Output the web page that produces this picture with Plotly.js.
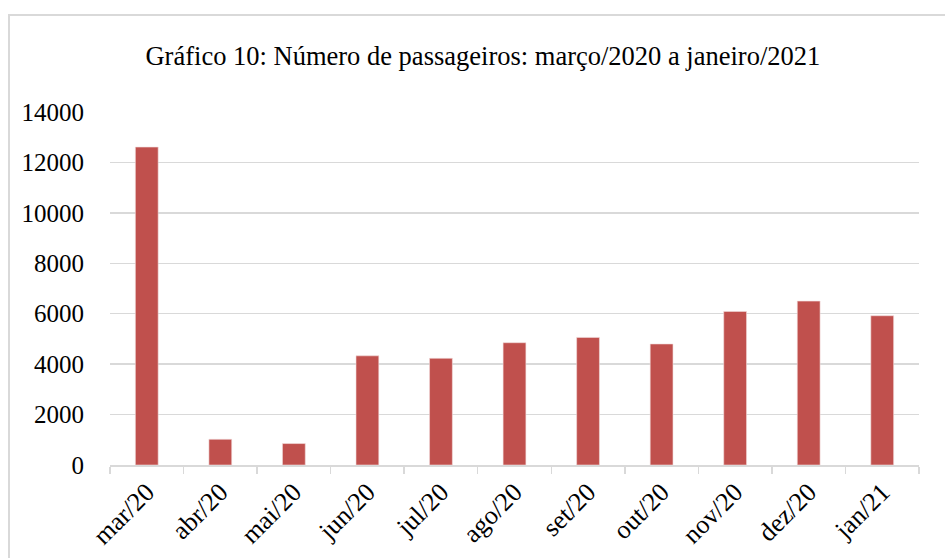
<!DOCTYPE html>
<html>
<head>
<meta charset="utf-8">
<script src="https://cdn.plot.ly/plotly-3.0.1.min.js"></script>
<style>
html,body{margin:0;padding:0;background:#fff;overflow:hidden;}
#frame{position:absolute;left:8px;top:14px;width:1000px;height:1000px;border:2px solid #d9d9d9;box-sizing:border-box;}
#chart{position:absolute;left:0;top:0;width:945px;height:558px;}
</style>
</head>
<body>
<div id="frame"></div>
<div id="chart"></div>
<script>
const months = ["mar/20","abr/20","mai/20","jun/20","jul/20","ago/20","set/20","out/20","nov/20","dez/20","jan/21"];
const passengers = [12610, 1020, 850, 4330, 4230, 4850, 5060, 4800, 6090, 6500, 5920];
const yTicks = [0,2000,4000,6000,8000,10000,12000,14000];
const chartTitle = "Gráfico 10: Número de passageiros: março/2020 a janeiro/2021";

const font = "Liberation Serif, Times New Roman, serif";
Plotly.newPlot("chart", [{
  type: "bar",
  x: months,
  y: passengers,
  marker: {color: "#c0504d", line: {color: "#f2dcdb", width: 0.6}},
  hoverinfo: "x+y"
}], {
  width: 945, height: 558,
  paper_bgcolor: "rgba(0,0,0,0)",
  plot_bgcolor: "rgba(0,0,0,0)",
  margin: {l: 110, r: 26, t: 112, b: 93},
  bargap: 0.69,
  showlegend: false,
  title: {text: chartTitle, font: {family: font, size: 26.5, color: "#000"}, x: 0.511, xanchor: "center", y: 0.9, yanchor: "middle"},
  xaxis: {
    type: "category",
    tickangle: -45,
    tickfont: {family: font, size: 26, color: "#000"},
    ticks: "outside", tickson: "boundaries", ticklen: 7, tickcolor: "#d9d9d9", tickwidth: 1.5,
    showline: true, linecolor: "#d9d9d9", linewidth: 1.5,
    showgrid: false, zeroline: false
  },
  yaxis: {
    range: [0, 14000],
    tickvals: yTicks,
    ticktext: yTicks.map(String),
    tickfont: {family: font, size: 25, color: "#000"},
    ticks: "outside", ticklen: 20, tickcolor: "rgba(0,0,0,0)",
    showgrid: true, gridcolor: "#d9d9d9", gridwidth: 1.5,
    zeroline: false, showline: false
  }
}, {staticPlot: true});
</script>
</body>
</html>
